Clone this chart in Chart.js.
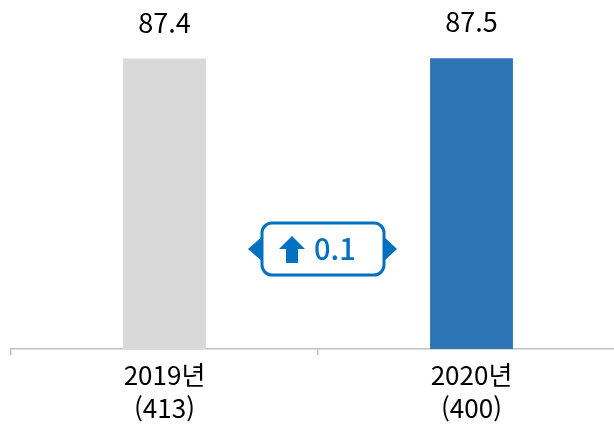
<!DOCTYPE html>
<html lang="ko">
<head>
    <meta charset="UTF-8">
    <title>2019-2020 비교</title>
    <script src="https://cdn.jsdelivr.net/npm/chart.js"></script>
    <style>
        body {
            margin: 0;
            background: white;
            overflow: hidden;
        }
        .wrap {
            width: 640px;
            height: 428px;
        }
    </style>
</head>
<body>
    <div class="wrap"><canvas id="chart"></canvas></div>

    <script>
        const years = ['2019년', '2020년'];
        const counts = ['(413)', '(400)'];
        const scores = [87.4, 87.5];
        const barColors = ['#d9d9d9', '#2e75b6'];

        const FONT = "'Noto Sans CJK KR', 'Noto Sans', sans-serif";
        const BLUE = '#0070c0';

        // value above each bar
        const valueLabels = {
            id: 'valueLabels',
            afterDatasetsDraw(chart) {
                const ctx = chart.ctx;
                const meta = chart.getDatasetMeta(0);
                ctx.save();
                ctx.font = '27px ' + FONT;
                ctx.fillStyle = '#000';
                ctx.textAlign = 'center';
                ctx.textBaseline = 'middle';
                meta.data.forEach((bar, i) => {
                    ctx.fillText(scores[i].toFixed(1), bar.x, bar.y - 36);
                });
                ctx.restore();
            }
        };

        // change badge between the bars
        const diffBadge = {
            id: 'diffBadge',
            afterDatasetsDraw(chart) {
                const ctx = chart.ctx;
                const meta = chart.getDatasetMeta(0);
                const cx = (meta.data[0].x + meta.data[1].x) / 2 + 5;
                const cy = 249;
                const w = 122, h = 52, r = 10;
                const x0 = cx - w / 2, y0 = cy - h / 2;
                ctx.save();
                // side pointers
                ctx.fillStyle = BLUE;
                ctx.beginPath();
                ctx.moveTo(x0 - 14, cy);
                ctx.lineTo(x0 + 2, cy - 14);
                ctx.lineTo(x0 + 2, cy + 14);
                ctx.closePath();
                ctx.fill();
                ctx.beginPath();
                ctx.moveTo(x0 + w + 13, cy);
                ctx.lineTo(x0 + w - 2, cy - 14);
                ctx.lineTo(x0 + w - 2, cy + 14);
                ctx.closePath();
                ctx.fill();
                // box
                ctx.fillStyle = '#fff';
                ctx.strokeStyle = BLUE;
                ctx.lineWidth = 3;
                ctx.beginPath();
                ctx.roundRect(x0, y0, w, h, r);
                ctx.fill();
                ctx.stroke();
                // up arrow
                const ax = x0 + 30, ay = cy;
                ctx.fillStyle = BLUE;
                ctx.beginPath();
                ctx.moveTo(ax, ay - 13);
                ctx.lineTo(ax + 13, ay);
                ctx.lineTo(ax + 6, ay);
                ctx.lineTo(ax + 6, ay + 14);
                ctx.lineTo(ax - 6, ay + 14);
                ctx.lineTo(ax - 6, ay);
                ctx.lineTo(ax - 13, ay);
                ctx.closePath();
                ctx.fill();
                // text
                const diff = (scores[1] - scores[0]).toFixed(1);
                ctx.font = '500 29px ' + FONT;
                ctx.textAlign = 'left';
                ctx.textBaseline = 'middle';
                ctx.fillText(diff, x0 + 52, cy);
                ctx.restore();
            }
        };

        new Chart(document.getElementById('chart'), {
            type: 'bar',
            data: {
                labels: years.map((y, i) => [y, counts[i]]),
                datasets: [{
                    data: scores,
                    backgroundColor: barColors,
                    barPercentage: 0.27,
                    categoryPercentage: 1
                }]
            },
            options: {
                responsive: true,
                maintainAspectRatio: false,
                animation: false,
                layout: { padding: { left: 11, right: 15, top: 0, bottom: 0 } },
                plugins: {
                    legend: { display: false },
                    tooltip: { enabled: false }
                },
                scales: {
                    x: {
                        border: { color: '#bfbfbf', width: 1.5 },
                        grid: {
                            color: '#bfbfbf',
                            lineWidth: 1.5,
                            drawOnChartArea: false,
                            tickLength: 6,
                            offset: true
                        },
                        ticks: {
                            color: '#000',
                            padding: 4,
                            font: { family: FONT, size: 26, lineHeight: 1.25 }
                        }
                    },
                    y: {
                        display: false,
                        min: 0,
                        max: 105
                    }
                }
            },
            plugins: [valueLabels, diffBadge]
        });
    </script>
</body>
</html>
